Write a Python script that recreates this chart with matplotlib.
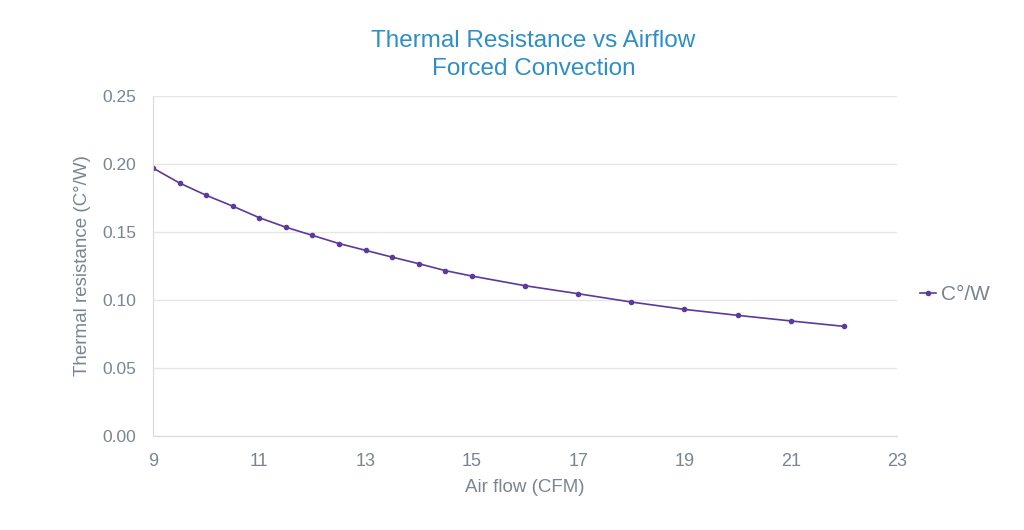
import matplotlib.pyplot as plt

plt.rcParams['font.family'] = ['Liberation Sans', 'DejaVu Sans']

# airflow (CFM) and thermal resistance (C°/W)
airflow = [9, 9.5, 10, 10.5, 11, 11.5, 12, 12.5, 13, 13.5, 14, 14.5, 15,
           16, 17, 18, 19, 20, 21, 22]
resistance = [0.197, 0.186, 0.177, 0.169, 0.1605, 0.1535, 0.1475, 0.1415,
              0.1365, 0.1315, 0.1267, 0.1216, 0.1176,
              0.1105, 0.1046, 0.0985, 0.0931, 0.0887, 0.0846, 0.0806]
x_ticks = [9, 11, 13, 15, 17, 19, 21, 23]
y_ticks = [0.00, 0.05, 0.10, 0.15, 0.20, 0.25]

line_color = '#5B3A9B'
text_gray = '#7A8591'
grid_gray = '#E6E6E6'

fig = plt.figure(figsize=(10.24, 5.3), dpi=100)
ax = fig.add_axes([0.1494, 0.1774, 0.7266, 0.6415])

ax.plot(airflow, resistance, color=line_color, lw=1.2, marker='o',
        markersize=3, label='C°/W')

ax.set_xlim(9, 23)
ax.set_ylim(0, 0.25)
ax.set_xticks(x_ticks)
ax.set_yticks(y_ticks)
ax.set_yticklabels([f'{v:.2f}' for v in y_ticks])
ax.tick_params(axis='x', length=0, labelsize=13, colors=text_gray, pad=12)
ax.tick_params(axis='y', length=0, labelsize=12.5, colors=text_gray, pad=12)
ax.grid(axis='y', color=grid_gray, lw=1)
ax.set_axisbelow(True)

for side in ['top', 'right']:
    ax.spines[side].set_visible(False)
for side in ['left', 'bottom']:
    ax.spines[side].set_color('#D9D9D9')

ax.set_xlabel('Air flow (CFM)', fontsize=13.5, color=text_gray, labelpad=7)
ax.set_ylabel('Thermal resistance (C°/W)', fontsize=13.5, color=text_gray, labelpad=8)

fig.text(0.521, 0.896, 'Thermal Resistance vs Airflow\nForced Convection',
         ha='center', va='center', fontsize=17.5, color='#2E8FC6', linespacing=1.35)

leg = ax.legend(loc='center left', bbox_to_anchor=(1.006, 0.415), frameon=False,
                fontsize=15, handlelength=0.75, handletextpad=0.25)
for t in leg.get_texts():
    t.set_color(text_gray)

fig.savefig('out.png', dpi=100)
